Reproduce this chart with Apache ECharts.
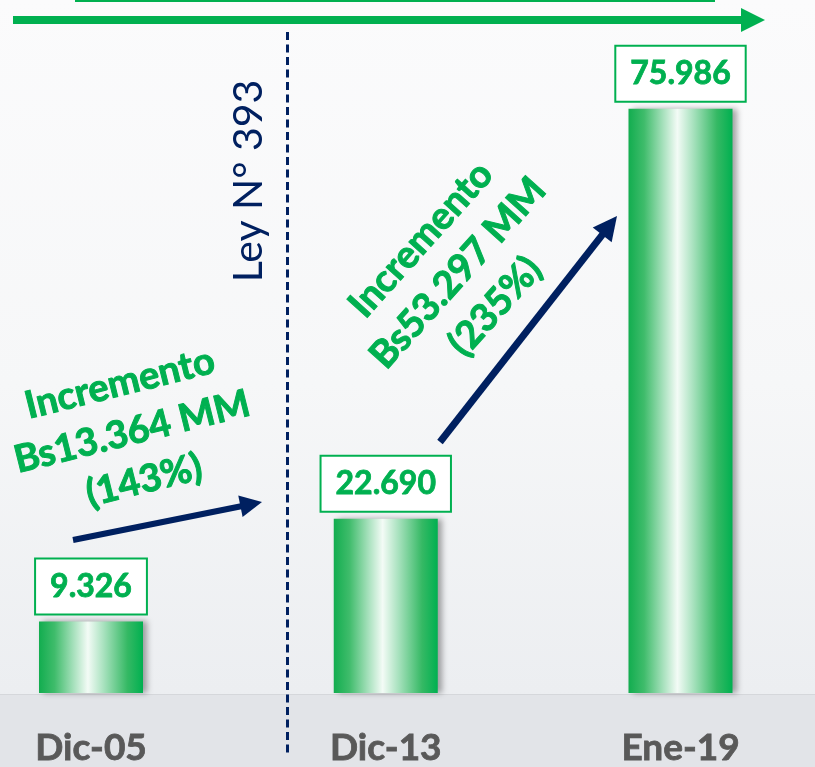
<!DOCTYPE html>
<html><head><meta charset="utf-8">
<script src="https://cdn.jsdelivr.net/npm/echarts@6/dist/echarts.min.js"></script>
<style>html,body{margin:0;padding:0;background:#fff}#c{width:815px;height:767px}</style>
</head><body><div id="c"></div>
<script>
var categories = ['Dic-05', 'Dic-13', 'Ene-19'];
var values = [9326, 22690, 75986];
var lawLabel = 'Ley N° 393';
var notes = ['Incremento\nBs13.364 MM\n(143%)', 'Incremento\nBs53.297 MM\n(235%)'];

var GREEN = '#00b050', NAVY = '#002060';
function fmt(v){ return String(v).replace(/\B(?=(\d{3})+(?!\d))/g, '.'); }

function arrow(x1,y1,x2,y2,w,hl,hw){
  var a = Math.atan2(y2-y1,x2-x1), c=Math.cos(a), s=Math.sin(a);
  var bx = x2 - hl*c, by = y2 - hl*s;
  return [
    {type:'line', shape:{x1:x1,y1:y1,x2:bx+2*c,y2:by+2*s}, style:{stroke:NAVY,lineWidth:w}},
    {type:'polygon', shape:{points:[[x2,y2],[bx - hw/2*s, by + hw/2*c],[bx + hw/2*s, by - hw/2*c]]}, style:{fill:NAVY}}
  ];
}

var chart = echarts.init(document.getElementById('c'));
var graphics = [
  {type:'rect', shape:{x:0,y:694,width:815,height:73}, style:{fill:'#e2e4e8'}, z:-10},
  {type:'line', shape:{x1:0,y1:694.5,x2:815,y2:694.5}, style:{stroke:'#d5d7db',lineWidth:1}, z:-9},
  {type:'line', shape:{x1:75,y1:1,x2:715,y2:1}, style:{stroke:GREEN,lineWidth:2}},
  {type:'line', shape:{x1:13,y1:20,x2:743,y2:20}, style:{stroke:GREEN,lineWidth:8}},
  {type:'polygon', shape:{points:[[741,8],[741,32],[765,20]]}, style:{fill:GREEN}},
  {type:'line', shape:{x1:287.5,y1:32,x2:287.5,y2:756}, style:{stroke:NAVY,lineWidth:3,lineDash:[8,4.5]}},
  {type:'text', x:249, y:181, rotation:Math.PI/2, style:{text:lawLabel, font:'41px Lato', fill:NAVY, align:'center', verticalAlign:'middle'}},
  {type:'text', x:132, y:432, rotation:14*Math.PI/180, style:{text:notes[0], font:'bold 38px Lato', lineHeight:50, fill:GREEN, stroke:GREEN, lineWidth:1, align:'center', verticalAlign:'middle'}},
  {type:'text', x:458, y:273, rotation:48*Math.PI/180, style:{text:notes[1], font:'bold 38px Lato', lineHeight:50, fill:GREEN, stroke:GREEN, lineWidth:1, align:'center', verticalAlign:'middle'}}
].concat(arrow(73,540,262,502,6,22,22)).concat(arrow(440,442,617,216,7,24,24));

chart.setOption({
  animation:false,
  backgroundColor:{type:'linear',x:0,y:0,x2:0,y2:1,colorStops:[{offset:0,color:'#fbfbfc'},{offset:0.5,color:'#f6f7f8'},{offset:0.9,color:'#eceef1'},{offset:1,color:'#e8eaed'}]},
  grid:{left:91, right:134.5, top:78, bottom:73},
  xAxis:{type:'category', data:categories, boundaryGap:false,
    axisLine:{show:false}, axisTick:{show:false},
    axisLabel:{margin:37, fontFamily:'Lato', fontWeight:'bold', fontSize:37, lineHeight:36, color:'#595959', textBorderColor:'#595959', textBorderWidth:0.8}},
  yAxis:{type:'value', min:0, max:80000, show:false, splitLine:{show:false}},
  graphic:graphics,
  series:[{type:'bar', data:values, barWidth:104,
    itemStyle:{
      color:{type:'linear',x:0,y:0,x2:1,y2:0,colorStops:[
        {offset:0,color:'#12ad4f'},{offset:0.15,color:'#3fbc6b'},{offset:0.33,color:'#a5e0bb'},
        {offset:0.47,color:'#f3fbf6'},{offset:0.62,color:'#a9e2bf'},{offset:0.85,color:'#35b964'},{offset:1,color:'#00b050'}]},
      shadowColor:'rgba(0,0,0,0.35)', shadowBlur:6, shadowOffsetX:4, shadowOffsetY:0
    },
    label:{show:true, position:'top', distance:8, formatter:function(p){return fmt(p.value);},
      fontFamily:'Lato', fontWeight:'bold', fontSize:32, lineHeight:36, color:GREEN, textBorderColor:GREEN, textBorderWidth:0.8,
      backgroundColor:'#ffffff', borderColor:GREEN, borderWidth:2, padding:[9,14,9,14]}
  }]
});
</script></body></html>
